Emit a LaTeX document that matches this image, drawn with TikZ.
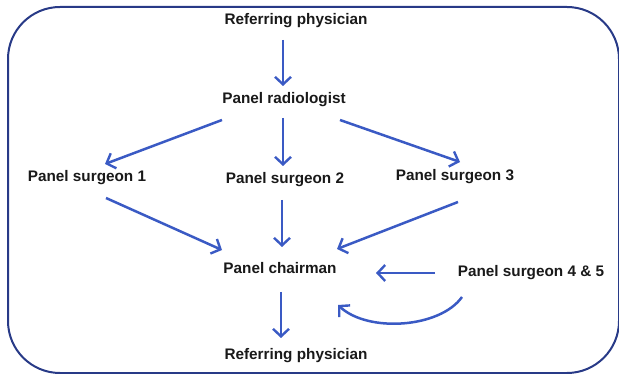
\documentclass[tikz,border=0pt]{standalone}
\usepackage{fontspec}
\setmainfont{Liberation Sans}
\usetikzlibrary{arrows.meta,calc}
\definecolor{arrblue}{RGB}{58,90,196}
\definecolor{frameblue}{RGB}{40,58,135}
\begin{document}
\begin{tikzpicture}[x=1pt,y=-1pt,
  lbl/.style={font=\fontsize{15.3}{18}\selectfont\bfseries, inner sep=0pt, text=black!90},
  arr/.style={draw=arrblue, line width=2.5pt, -{Straight Barb[length=7.5pt,width=16pt,line width=2.4pt]}},
  frame/.style={draw=frameblue, line width=2pt, rounded corners=52pt}]
\useasboundingbox (0,0) rectangle (619,374);
\draw[frame] (8,7) rectangle (619,373);
\node[lbl] (rp1) at (296,21) {Referring physician};
\node[lbl] (rad) at (284,100) {Panel radiologist};
\node[lbl] (s1) at (87,178) {Panel surgeon 1};
\node[lbl] (s2) at (285,180) {Panel surgeon 2};
\node[lbl] (s3) at (455,177) {Panel surgeon 3};
\node[lbl] (chair) at (280,268) {Panel chairman};
\node[lbl] (s45) at (531,273) {Panel surgeon 4 \& 5};
\node[lbl] (rp2) at (296,356) {Referring physician};
\draw[arr] ($(rp1)+(-13,19)$) -- ($(rad)+(-1,-14)$);
\draw[arr] ($(rad)+(-62,20)$) -- ($(s1)+(18,-14)$);
\draw[arr] ($(rad)+(-1,18)$) -- ($(s2)+(-2,-14)$);
\draw[arr] ($(rad)+(56,20)$) -- ($(s3)+(5,-15)$);
\draw[arr] ($(s1)+(19,20)$) -- ($(chair)+(-58,-18)$);
\draw[arr] ($(s2)+(-3,20)$) -- ($(chair)+(2,-21)$);
\draw[arr] ($(s3)+(3,25)$) -- ($(chair)+(57,-19)$);
\draw[arr] ($(s45)+(-96,0)$) -- ($(chair)+(96,5)$);
\draw[arr] ($(s45)+(-69,24)$) .. controls (440,328) and (368,333) .. ($(chair)+(58,37)$);
\draw[arr] ($(chair)+(1,24)$) -- ($(rp2)+(-15,-18)$);
\end{tikzpicture}
\end{document}
